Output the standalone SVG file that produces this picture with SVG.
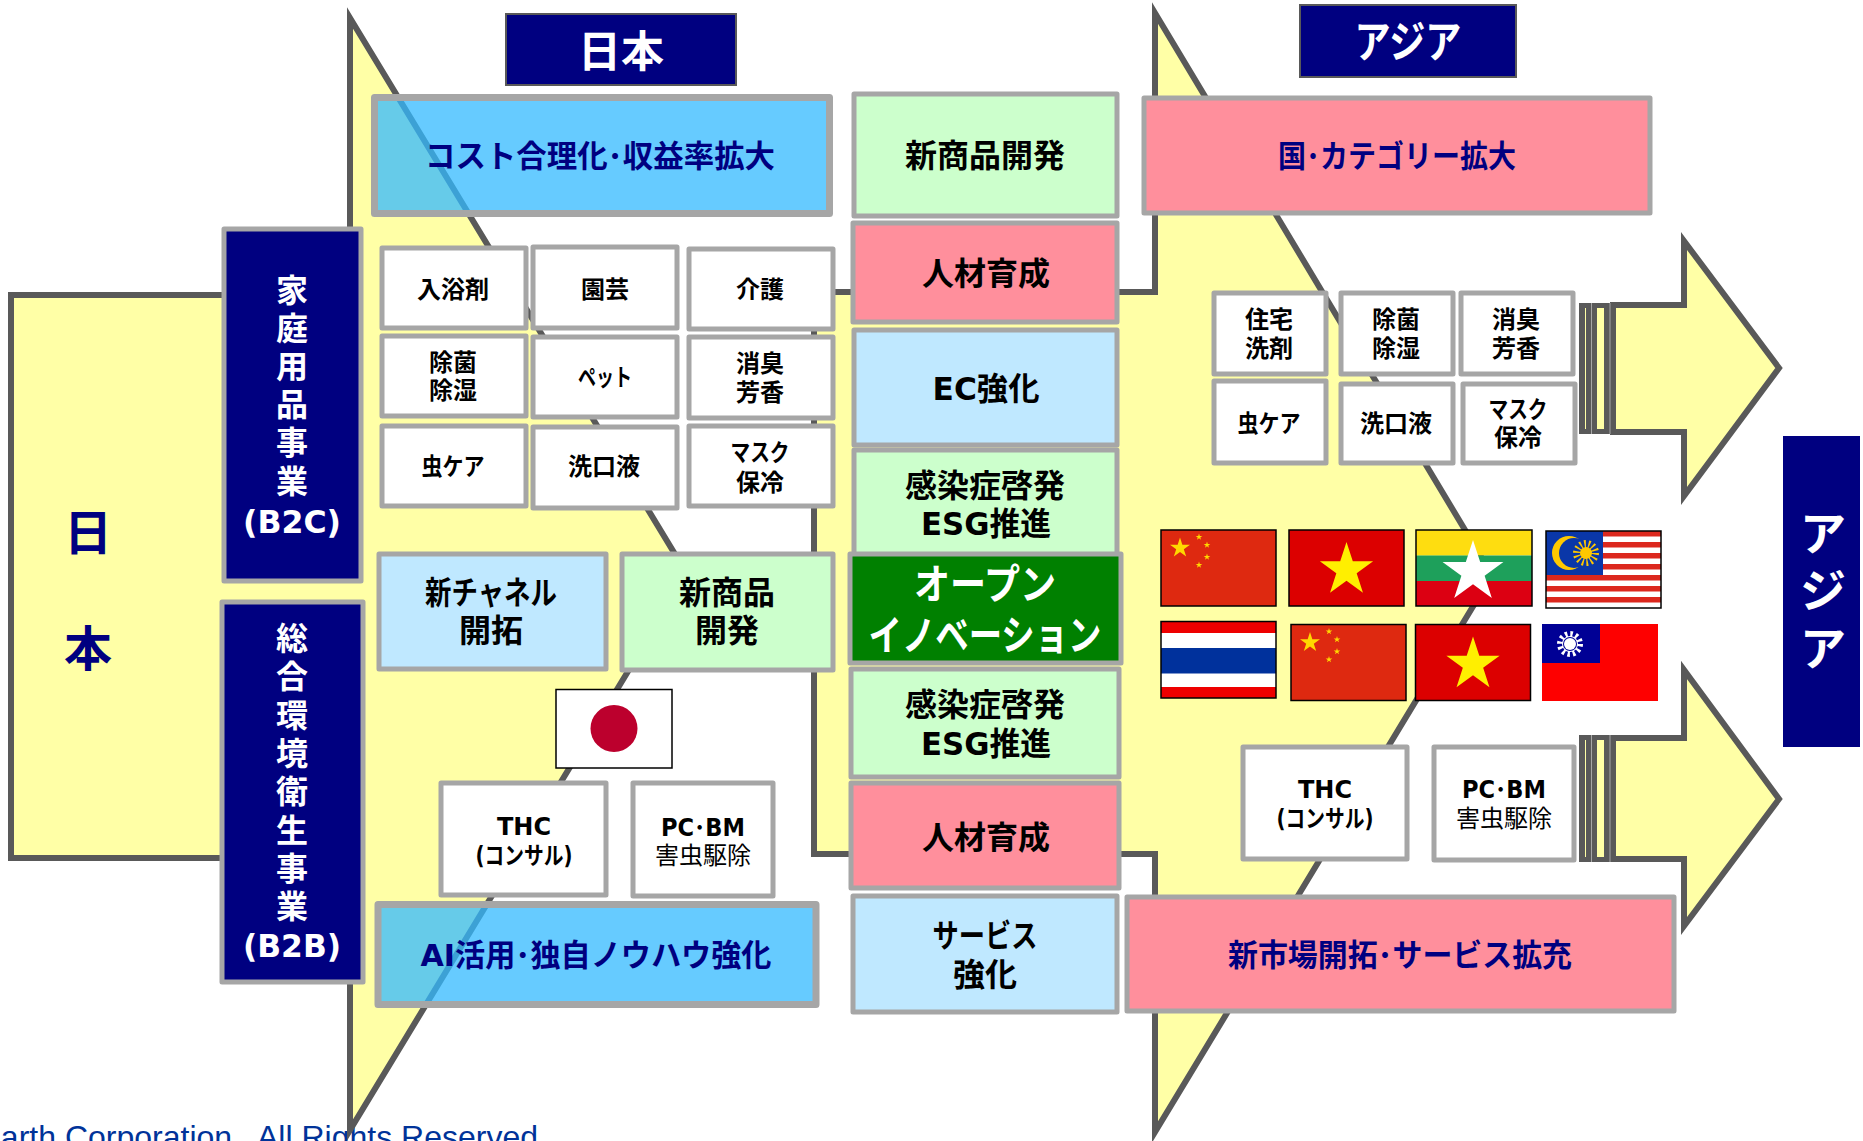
<svg xmlns="http://www.w3.org/2000/svg" width="1863" height="1141" viewBox="0 0 1863 1141">
<style>
text{font-family:"DejaVu Sans","Noto Sans CJK JP",sans-serif;font-weight:700;text-anchor:middle}
.box{stroke:#A6A6A6;stroke-linejoin:round}
.s{fill:#fff;stroke-width:5}
.lb{fill:#BFE8FF;stroke-width:5}
.lg{fill:#CCFFCC;stroke-width:5}
.pk{fill:#FF8F9C;stroke-width:5}
.nv{fill:#000080;stroke-width:5}
.hd{fill:#000080;stroke:#595959;stroke-width:2}
.bl{fill:#33B9FF;fill-opacity:.75;stroke-width:7}
.arrow{fill:#FFFFA6;stroke:#595959;stroke-width:6;stroke-miterlimit:10}
.k{fill:#000;font-size:24px}
.m{fill:#000;font-size:32px}
.n{fill:#000080;font-size:31px}
.w{fill:#fff;font-size:32px}
.fl{stroke:#000;stroke-width:1.5;fill:none}
</style>
<defs>
<polygon id="star" points="0,-1 .2245,-.309 .951,-.309 .363,.118 .588,.809 0,.382 -.588,.809 -.363,.118 -.951,-.309 -.2245,-.309"/>
<g id="cn">
<rect width="115" height="76" fill="#DE2910"/>
<g fill="#FFD800">
<use href="#star" transform="translate(19 18) scale(10.5)"/>
<use href="#star" transform="translate(38 7) scale(3.5)"/>
<use href="#star" transform="translate(46 15) scale(3.5)"/>
<use href="#star" transform="translate(46 27) scale(3.5)"/>
<use href="#star" transform="translate(38 35) scale(3.5)"/>
</g>
<rect class="fl" width="115" height="76"/>
</g>
<g id="vn">
<rect width="115" height="76" fill="#DC0000"/>
<use href="#star" transform="translate(57.5 40) scale(28)" fill="#FFEF00"/>
<rect class="fl" width="115" height="76"/>
</g>
</defs>

<text x="538" y="1148" xml:space="preserve" style="text-anchor:end;white-space:pre;font-family:'Liberation Sans',sans-serif;font-weight:400;font-size:32px;fill:#003399">Earth Corporation.  All Rights Reserved</text>

<g id="connectors">
<polygon class="arrow" points="11,295 350,295 350,18 687,574 350,1130 350,858 11,858"/>
<polygon class="arrow" points="814,292 1155,292 1155,13 1492,575 1155,1132 1155,854 814,854"/>
<g id="arrow-asia-upper">
<polygon class="arrow" points="1613,305 1684,305 1684,241 1779,368 1684,496 1684,432 1613,432"/>
<rect x="1579" y="303" width="37" height="131" fill="#595959"/>
<rect x="1597" y="308" width="7" height="121" fill="#FFFFA6"/>
<rect x="1585" y="308" width="1" height="121" fill="#FFFFA6"/>
<rect x="1591" y="303" width="1" height="131" fill="#A6A6A6"/>
<rect x="1609.500" y="303" width="1" height="131" fill="#A6A6A6"/>
</g>
<g id="arrow-asia-lower">
<polygon class="arrow" points="1613,738 1684,738 1684,670 1779,799 1684,926 1684,859 1613,859"/>
<rect x="1579" y="735" width="37" height="127" fill="#595959"/>
<rect x="1597" y="740" width="7" height="117" fill="#FFFFA6"/>
<rect x="1585" y="740" width="1" height="117" fill="#FFFFA6"/>
<rect x="1591" y="735" width="1" height="127" fill="#A6A6A6"/>
<rect x="1609.500" y="735" width="1" height="127" fill="#A6A6A6"/>
</g>
</g>

<g id="label-nihon-left">
<text x="88" y="550" fill="#000080" font-size="48">日</text>
<text x="88" y="666" fill="#000080" font-size="48">本</text>
</g>

<g id="b2c"><rect class="box nv" x="224" y="229" width="137" height="352"/>
<text x="292" y="302" class="w">家</text><text x="292" y="340" class="w">庭</text><text x="292" y="378" class="w">用</text><text x="292" y="416" class="w">品</text><text x="292" y="454" class="w">事</text><text x="292" y="493" class="w">業</text><text x="292" y="533" class="w" textLength="98" lengthAdjust="spacingAndGlyphs">(B2C)</text>
</g>
<g id="b2b"><rect class="box nv" x="222" y="602" width="141" height="380"/>
<text x="292" y="650" class="w">総</text><text x="292" y="688" class="w">合</text><text x="292" y="727" class="w">環</text><text x="292" y="765" class="w">境</text><text x="292" y="803" class="w">衛</text><text x="292" y="842" class="w">生</text><text x="292" y="880" class="w">事</text><text x="292" y="918" class="w">業</text><text x="292" y="957" class="w" textLength="98" lengthAdjust="spacingAndGlyphs">(B2B)</text>
</g>

<g id="hd-japan"><rect class="hd" x="506" y="14" width="230" height="71"/><text x="621" y="67" fill="#fff" font-size="43">日本</text></g>
<g id="hd-asia"><rect class="hd" x="1300" y="5" width="216" height="72"/><text x="1408" y="58" fill="#fff" font-size="44" textLength="107" lengthAdjust="spacingAndGlyphs">アジア</text></g>
<g id="side-asia"><rect x="1783" y="436" width="77" height="311" fill="#000080"/>
<text x="1823" y="550" fill="#fff" font-size="46">ア</text><text x="1823" y="607" fill="#fff" font-size="46">ジ</text><text x="1823" y="665" fill="#fff" font-size="46">ア</text></g>

<g id="cost"><rect class="box bl" x="374.500" y="97.500" width="455" height="116"/><text x="600" y="167" class="n" textLength="350" lengthAdjust="spacingAndGlyphs">コスト合理化･収益率拡大</text></g>
<g id="ai"><rect class="box bl" x="378" y="904.500" width="438" height="100"/><text x="596" y="966" class="n" textLength="351" lengthAdjust="spacingAndGlyphs">AI活用･独自ノウハウ強化</text></g>

<g id="japan-small" transform="translate(-1 -1)">
<g id="jp-bath"><rect class="box s" x="383" y="249" width="144" height="80"/><text x="454" y="299" class="k">入浴剤</text></g>
<g id="jp-garden"><rect class="box s" x="534" y="248" width="144" height="81"/><text x="606" y="299" class="k">園芸</text></g>
<g id="jp-care"><rect class="box s" x="690" y="250" width="144" height="80"/><text x="761" y="299" class="k">介護</text></g>
<g id="jp-dehum"><rect class="box s" x="383" y="337" width="144" height="80"/><text x="454" y="372" class="k">除菌</text><text x="454" y="400" class="k">除湿</text></g>
<g id="jp-pet"><rect class="box s" x="534" y="338" width="144" height="80"/><text x="606" y="387" class="k" textLength="54" lengthAdjust="spacingAndGlyphs">ペット</text></g>
<g id="jp-deo"><rect class="box s" x="690" y="338" width="144" height="81"/><text x="761" y="373" class="k">消臭</text><text x="761" y="402" class="k">芳香</text></g>
<g id="jp-bug"><rect class="box s" x="383" y="427" width="144" height="80"/><text x="454" y="476" class="k" textLength="63" lengthAdjust="spacingAndGlyphs">虫ケア</text></g>
<g id="jp-mouth"><rect class="box s" x="534" y="428" width="144" height="81"/><text x="605" y="476" class="k">洗口液</text></g>
<g id="jp-mask"><rect class="box s" x="690" y="427" width="144" height="80"/><text x="761" y="462" class="k" textLength="59" lengthAdjust="spacingAndGlyphs">マスク</text><text x="761" y="492" class="k">保冷</text></g>
</g>

<g id="jp-channel"><rect class="box lb" x="379" y="554" width="227" height="115"/><text x="491" y="604" fill="#000" font-size="32" textLength="132" lengthAdjust="spacingAndGlyphs">新チャネル</text><text x="491" y="642" fill="#000" font-size="32">開拓</text></g>
<g id="jp-newprod"><rect class="box lg" x="622" y="554" width="211" height="116"/><text x="727" y="604" fill="#000" font-size="32">新商品</text><text x="727" y="642" fill="#000" font-size="32">開発</text></g>

<g id="flag-jp"><rect x="556" y="689.500" width="116" height="78.500" fill="#fff" stroke="#000" stroke-width="1.500"/><circle cx="614" cy="728.500" r="23.500" fill="#BC002D"/></g>

<g id="jp-thc"><rect class="box s" x="441" y="783" width="165" height="112"/><text x="524" y="835" class="k">THC</text><text x="524" y="864" class="k" textLength="97" lengthAdjust="spacingAndGlyphs">(コンサル)</text></g>
<g id="jp-pc"><rect class="box s" x="633" y="783" width="140" height="113"/><text x="703" y="836" class="k" textLength="84" lengthAdjust="spacingAndGlyphs">PC･BM</text><text x="703" y="864" fill="#000" font-size="24" style="font-weight:400">害虫駆除</text></g>

<g id="center-column" transform="translate(-1 0)">
<g id="c-newprod"><rect class="box lg" x="855" y="94" width="263" height="122"/><text x="986" y="167" class="m">新商品開発</text></g>
<g id="c-hr1"><rect class="box pk" x="854" y="223" width="264" height="99"/><text x="987" y="285" class="m">人材育成</text></g>
<g id="c-ec"><rect class="box lb" x="855" y="330" width="263" height="115"/><text x="987" y="400" class="m" textLength="107" lengthAdjust="spacingAndGlyphs">EC強化</text></g>
<g id="c-esg1"><rect class="box lg" x="855" y="450" width="263" height="105"/><text x="986" y="497" class="m">感染症啓発</text><text x="987" y="535" class="m" textLength="130" lengthAdjust="spacingAndGlyphs">ESG推進</text></g>
<g id="c-open"><rect class="box" style="fill:#008000;stroke-width:5" x="851" y="554" width="271" height="109"/><text x="986" y="599" fill="#fff" font-size="41" textLength="142" lengthAdjust="spacingAndGlyphs">オープン</text><text x="986" y="650" fill="#fff" font-size="41" textLength="233" lengthAdjust="spacingAndGlyphs">イノベーション</text></g>
<g id="c-esg2"><rect class="box lg" x="852" y="669" width="268" height="108"/><text x="986" y="716" class="m">感染症啓発</text><text x="987" y="755" class="m" textLength="130" lengthAdjust="spacingAndGlyphs">ESG推進</text></g>
<g id="c-hr2"><rect class="box pk" x="852" y="783" width="268" height="105"/><text x="987" y="849" class="m">人材育成</text></g>
<g id="c-service"><rect class="box lb" x="854" y="896" width="264" height="116"/><text x="986" y="947" class="m" textLength="105" lengthAdjust="spacingAndGlyphs">サービス</text><text x="986" y="986" class="m">強化</text></g>
</g>

<g id="asia-top"><rect class="box pk" x="1144" y="98" width="506" height="115"/><text x="1397" y="167" class="n" textLength="238" lengthAdjust="spacingAndGlyphs">国･カテゴリー拡大</text></g>
<g id="asia-bottom"><rect class="box pk" x="1127" y="897" width="547" height="114"/><text x="1400" y="966" class="n" textLength="344" lengthAdjust="spacingAndGlyphs">新市場開拓･サービス拡充</text></g>

<g id="asia-small" transform="translate(-2 -1)">
<g id="as-house"><rect class="box s" x="1216" y="294" width="112" height="81"/><text x="1271" y="329" class="k">住宅</text><text x="1271" y="358" class="k">洗剤</text></g>
<g id="as-dehum"><rect class="box s" x="1343" y="294" width="112" height="81"/><text x="1398" y="329" class="k">除菌</text><text x="1398" y="358" class="k">除湿</text></g>
<g id="as-deo"><rect class="box s" x="1463" y="294" width="112" height="81"/><text x="1518" y="329" class="k">消臭</text><text x="1518" y="358" class="k">芳香</text></g>
<g id="as-bug"><rect class="box s" x="1216" y="382" width="112" height="82"/><text x="1271" y="433" class="k" textLength="63" lengthAdjust="spacingAndGlyphs">虫ケア</text></g>
<g id="as-mouth"><rect class="box s" x="1343" y="385" width="112" height="79"/><text x="1398" y="433" class="k">洗口液</text></g>
<g id="as-mask"><rect class="box s" x="1465" y="385" width="112" height="79"/><text x="1520" y="419" class="k" textLength="59" lengthAdjust="spacingAndGlyphs">マスク</text><text x="1520" y="447" class="k">保冷</text></g>
</g>
<g id="as-thc"><rect class="box s" x="1243" y="747" width="164" height="112"/><text x="1325" y="798" class="k">THC</text><text x="1325" y="827" class="k" textLength="97" lengthAdjust="spacingAndGlyphs">(コンサル)</text></g>
<g id="as-pc"><rect class="box s" x="1434" y="747" width="140" height="113"/><text x="1504" y="798" class="k" textLength="84" lengthAdjust="spacingAndGlyphs">PC･BM</text><text x="1504" y="827" fill="#000" font-size="24" style="font-weight:400">害虫駆除</text></g>

<g id="flag-cn1"><use href="#cn" x="1161" y="530"/></g>
<g id="flag-vn1"><use href="#vn" x="1289" y="530"/></g>
<g id="flag-mm">
<rect x="1416" y="530" width="116" height="25.500" fill="#FEDD10"/>
<rect x="1416" y="555.500" width="116" height="25.500" fill="#1EA05B"/>
<rect x="1416" y="581" width="116" height="25" fill="#DC0012"/>
<use href="#star" transform="translate(1473 572) scale(32)" fill="#fff"/>
<rect class="fl" x="1416" y="530" width="116" height="76"/>
</g>
<g id="flag-my">
<rect x="1546" y="531" width="115" height="77" fill="#fff"/>
<g fill="#DC281E">
<rect x="1546" y="531" width="115" height="5.500"/><rect x="1546" y="542" width="115" height="5.500"/><rect x="1546" y="553" width="115" height="5.500"/><rect x="1546" y="564" width="115" height="5.500"/><rect x="1546" y="575" width="115" height="5.500"/><rect x="1546" y="586" width="115" height="5.500"/><rect x="1546" y="597" width="115" height="5.500"/>
</g>
<rect x="1546" y="531" width="57" height="44" fill="#0A37A8"/>
<circle cx="1569" cy="553" r="17" fill="#FFC800"/>
<circle cx="1574" cy="553" r="15" fill="#0A37A8"/>
<circle cx="1586" cy="553" r="9" fill="none" stroke="#FFC800" stroke-width="8" stroke-dasharray="1.600 2.440"/>
<circle cx="1586" cy="553" r="6" fill="#FFC800"/>
<rect class="fl" x="1546" y="531" width="115" height="77"/>
</g>
<g id="flag-th">
<rect x="1161" y="621.500" width="115" height="76.500" fill="#EE0000"/>
<rect x="1161" y="633" width="115" height="54" fill="#fff"/>
<rect x="1161" y="648" width="115" height="25.500" fill="#00319C"/>
<rect class="fl" x="1161" y="621.500" width="115" height="76.500"/>
</g>
<g id="flag-cn2"><use href="#cn" x="1291" y="624.500"/></g>
<g id="flag-vn2"><use href="#vn" x="1415.500" y="624.500"/></g>
<g id="flag-tw">
<rect x="1542" y="624" width="116" height="77" fill="#FE0000"/>
<rect x="1542" y="624" width="58" height="39" fill="#000095"/>
<circle cx="1570" cy="644" r="10" fill="none" stroke="#fff" stroke-width="6" stroke-dasharray="2.400 2.836"/>
<circle cx="1570" cy="644" r="8" fill="#fff"/>
<circle cx="1570" cy="644" r="7" fill="#000095"/>
<circle cx="1570" cy="644" r="6" fill="#fff"/>
</g>
</svg>
